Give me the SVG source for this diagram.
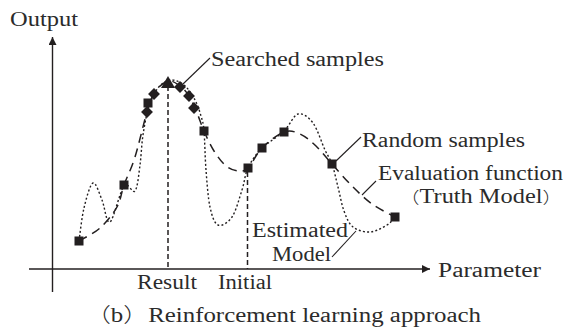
<svg xmlns="http://www.w3.org/2000/svg" width="568" height="328" viewBox="0 0 568 328">
  <defs>
    <style>
      .t { font-family: "Liberation Serif", "Times New Roman", "Noto Sans CJK JP", serif; font-size: 20px; fill: #2b2b2b; }
      .cj { font-family: "Noto Sans CJK JP", serif; font-weight: 300; }
      .cjs { font-family: "Noto Sans CJK JP", serif; font-weight: 300; font-size: 16px; }
      .axis { stroke: #231f20; stroke-width: 1.4; fill: none; }
      .lead { stroke: #231f20; stroke-width: 1.1; fill: none; }
      .truth { stroke: #231f20; stroke-width: 1.5; fill: none; stroke-dasharray: 9 6; }
      .est { stroke: #231f20; stroke-width: 1.4; fill: none; stroke-dasharray: 2 2.2; }
      .vline { stroke: #231f20; stroke-width: 1.5; fill: none; stroke-dasharray: 5 3; }
      .mk { fill: #231f20; }
    </style>
    <rect id="sq" x="-4.5" y="-4.5" width="9" height="9" class="mk"/>
    <rect id="dm" x="-4.2" y="-4.2" width="8.4" height="8.4" class="mk" transform="rotate(45)"/>
    <marker id="arr" markerWidth="10" markerHeight="10" refX="8" refY="4" orient="auto" markerUnits="userSpaceOnUse">
      <path d="M0,0 L8,4 L0,8 Z" fill="#231f20"/>
    </marker>
  </defs>
  <rect width="568" height="328" fill="#ffffff"/>

  <g id="axes">
    <line class="axis" x1="52.5" y1="292" x2="52.5" y2="37" marker-end="url(#arr)"/>
    <line class="axis" x1="29" y1="269" x2="430" y2="269" marker-end="url(#arr)"/>
  </g>

  <g id="guides">
    <line class="vline" x1="168" y1="86" x2="168" y2="269"/>
    <line class="vline" x1="247.5" y1="172" x2="247.5" y2="269"/>
  </g>

  <g id="curves">
    <path id="truth-curve" class="truth" d="M79,241 C82.5,238.8 93.7,233.7 100,228 C106.3,222.3 113,214.2 117,207 C121,199.8 121,193.3 124,185 C127,176.7 131.2,169.2 135,157 C138.8,144.8 143.7,122.8 147,112 C150.3,101.2 151.5,97.2 155,92 C158.5,86.8 163.8,82 168,81 C172.2,80 176.5,83.5 180,86 C183.5,88.5 186.2,91.5 189,96 C191.8,100.5 194.5,107.2 197,113 C199.5,118.8 201.2,124.7 204,131 C206.8,137.3 210.3,145.2 214,151 C217.7,156.8 222,162.7 226,166 C230,169.3 234.3,170.7 238,171 C241.7,171.3 244,171.8 248,168 C252,164.2 256,154 262,148 C268,142 277.7,134.3 284,132 C290.3,129.7 294.7,131.7 300,134 C305.3,136.3 310.7,141 316,146 C321.3,151 326,157.3 332,164 C338,170.7 345.3,179.3 352,186 C358.7,192.7 364.8,198.8 372,204 C379.2,209.2 391.2,214.8 395,217"/>
    <path id="estimated-curve" class="est" d="M79,241 C79.8,235.5 81.7,217.7 84,208 C86.3,198.3 90,184.3 93,183 C96,181.7 99.2,193.5 102,200 C104.8,206.5 106.3,224.3 110,222 C113.7,219.7 119.8,191.2 124,186 C128.2,180.8 132.3,194.5 135,191 C137.7,187.5 138.7,174.3 140,165 C141.3,155.7 141.5,144.8 143,135 C144.5,125.2 146.5,113.8 149,106 C151.5,98.2 154.5,92.3 158,88 C161.5,83.7 165.7,80.5 170,80 C174.3,79.5 179.8,81.7 184,85 C188.2,88.3 192.2,94.8 195,100 C197.8,105.2 199.5,110.8 201,116 C202.5,121.2 203.2,122 204,131 C204.8,140 205,157.3 206,170 C207,182.7 208,197.8 210,207 C212,216.2 214.3,223.3 218,225 C221.7,226.7 228,222.8 232,217 C236,211.2 239.3,198.2 242,190 C244.7,181.8 244.7,175 248,168 C251.3,161 256,154.2 262,148 C268,142.5 278,136.7 284,131 C290,125.3 293.2,115.3 298,114 C302.8,112.7 308.5,117 313,123 C317.5,129 321.8,143.2 325,150 C328.2,156.8 329.8,157.8 332,164 C334.2,170.2 336,179.2 338,187 C340,194.8 341.5,204.3 344,211 C346.5,217.7 348.7,223.5 353,227 C357.3,230.5 364.3,232.3 370,232 C375.7,231.7 382.8,227.5 387,225 C391.2,222.5 393.7,218.3 395,217"/>
  </g>

  <g id="connectors">
    <line class="lead" x1="183" y1="84" x2="210" y2="58"/>
    <line class="lead" x1="336" y1="161" x2="361" y2="137"/>
    <line class="lead" x1="376" y1="181" x2="362" y2="195"/>
    <line class="lead" x1="332" y1="257" x2="356" y2="231"/>
  </g>

  <g id="random-samples">
    <use href="#sq" x="79" y="241"/>
    <use href="#sq" x="124" y="185"/>
    <use href="#sq" x="148" y="103"/>
    <use href="#sq" x="204" y="131"/>
    <use href="#sq" x="248" y="168"/>
    <use href="#sq" x="262" y="148"/>
    <use href="#sq" x="284" y="132"/>
    <use href="#sq" x="332" y="164"/>
    <use href="#sq" x="395" y="217"/>
  </g>

  <g id="searched-samples">
    <use href="#dm" x="147" y="112"/>
    <use href="#dm" x="154" y="94"/>
    <use href="#dm" x="180" y="87"/>
    <use href="#dm" x="189" y="96"/>
    <use href="#dm" x="194" y="108"/>
    <path class="mk" d="M168,76 L175,88 L161,88 Z"/>
  </g>

  <g id="label-output"><text class="t" x="10" y="26" textLength="68" lengthAdjust="spacingAndGlyphs">Output</text></g>
  <g id="label-searched"><text class="t" x="211" y="66" textLength="173" lengthAdjust="spacingAndGlyphs">Searched samples</text></g>
  <g id="label-random"><text class="t" x="362" y="147" textLength="163" lengthAdjust="spacingAndGlyphs">Random samples</text></g>
  <g id="label-evaluation">
    <text class="t" x="378" y="179.5" textLength="185" lengthAdjust="spacingAndGlyphs">Evaluation function</text>
    <text class="t" x="400" y="203" textLength="162" lengthAdjust="spacingAndGlyphs"><tspan class="cjs">（</tspan>Truth Model<tspan class="cjs">）</tspan></text>
  </g>
  <g id="label-estimated">
    <text class="t" x="252" y="237" textLength="96" lengthAdjust="spacingAndGlyphs">Estimated</text>
    <text class="t" x="272" y="261" textLength="59" lengthAdjust="spacingAndGlyphs">Model</text>
  </g>
  <g id="label-result"><text class="t" x="137" y="289" textLength="60" lengthAdjust="spacingAndGlyphs">Result</text></g>
  <g id="label-initial"><text class="t" x="218" y="289" textLength="54" lengthAdjust="spacingAndGlyphs">Initial</text></g>
  <g id="label-parameter"><text class="t" x="438" y="277" textLength="103" lengthAdjust="spacingAndGlyphs">Parameter</text></g>
  <g id="caption">
    <text class="t" x="86" y="322" textLength="395" lengthAdjust="spacingAndGlyphs"><tspan class="cj">（</tspan>b<tspan class="cj">）</tspan>Reinforcement learning approach</text>
  </g>
</svg>
